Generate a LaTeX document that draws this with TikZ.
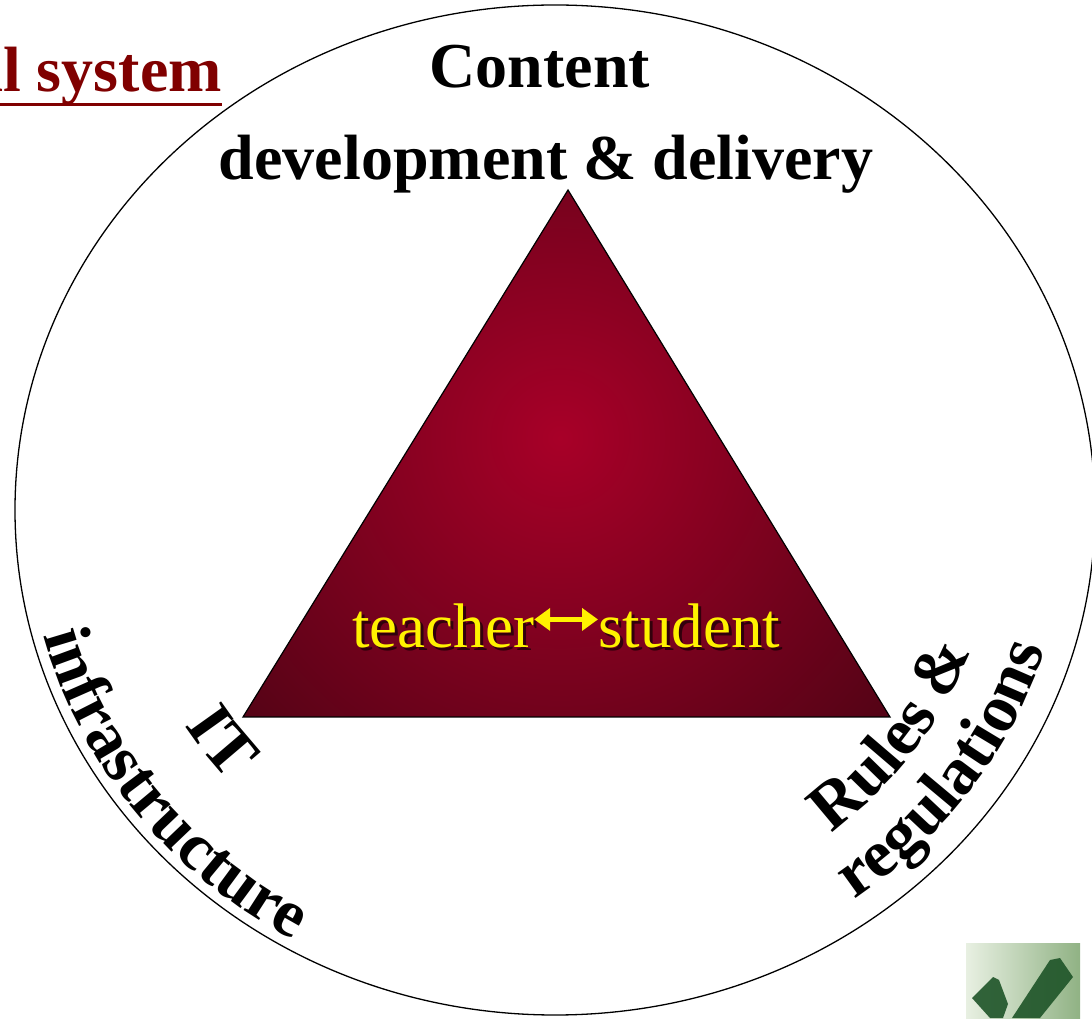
\documentclass[tikz,border=0pt]{standalone}
\usepackage{fontspec}
\setmainfont{Liberation Serif}
\usetikzlibrary{arrows.meta,decorations.text}

\definecolor{wine}{HTML}{800000}
\definecolor{crimson}{HTML}{A80028}
\definecolor{darkwine}{HTML}{3A0410}
\definecolor{tickpale}{HTML}{E8F0E2}
\definecolor{tickmid}{HTML}{90B284}
\definecolor{tickdark}{HTML}{1E5428}

\begin{document}
\begin{tikzpicture}[x=1pt,y=1pt,
  bigbold/.style={font=\fontsize{64}{64}\selectfont\bfseries, inner sep=0pt},
  yellowtext/.style={font=\fontsize{63}{63}\selectfont, text=yellow, inner sep=0pt},
  shadetext/.style={font=\fontsize{63}{63}\selectfont, text=black, opacity=0.6, inner sep=0pt},
  dblarrow/.style={draw=yellow, line width=5pt, {Triangle[length=16pt,width=22pt]}-{Triangle[length=16pt,width=22pt]}},
  arctext/.style={decorate, decoration={text along path, text align=center, text={#1}}}]
\newcommand{\ringx}{540}
\newcommand{\ringy}{505}
\newcommand{\arcfont}{\fontsize{67}{67}\selectfont\bfseries}

\useasboundingbox (0,0) rectangle (1092,1018);
\clip (0,0) rectangle (1092,1018);

% outer ring
\coordinate (ctr) at (555,508);
\draw[line width=1.3pt] (ctr) ellipse [x radius=\ringx, y radius=\ringy];

% triangle
\coordinate (apex) at (568,828);
\coordinate (leftc) at (243,301);
\coordinate (rightc) at (890,301);
\begin{scope}
\clip (apex) -- (leftc) -- (rightc) -- cycle;
\shade[inner color=crimson, outer color=darkwine] (560,580) circle (560);
\end{scope}
\draw[line width=1.2pt] (apex) -- (leftc) -- (rightc) -- cycle;

% headings
\node[bigbold, text=wine, anchor=base east] (system) at (222,926) {al system};
\draw[wine, line width=3pt] ([yshift=-13pt]system.base west) -- ([yshift=-13pt]system.base east);
\node[bigbold, anchor=base] (content) at (540,930) {Content};
\node[bigbold, anchor=base] (delivery) at (546,838) {development \& delivery};

% teacher <-> student
\node[shadetext, anchor=base west] (teachershade) at (355,367) {teacher};
\node[shadetext, anchor=base west] (studentshade) at (601,367) {student};
\node[yellowtext, anchor=base west] (teacher) at (352,370) {teacher};
\node[yellowtext, anchor=base west] (student) at (598,370) {student};
\draw[dblarrow] ([yshift=7pt]teacher.east) -- ([yshift=7pt]student.west);

% labels along the ring
\path[arctext={|\arcfont|IT}] (ctr) ++(176:436 and 408) arc[start angle=176, end angle=256, x radius=436, y radius=408];
\path[arctext={|\arcfont|infrastructure}] (ctr) ++(176:529 and 495) arc[start angle=176, end angle=258, x radius=529, y radius=495];
\path[arctext={|\arcfont|Rules {\&}}] (ctr) ++(285:442 and 413) arc[start angle=285, end angle=365, x radius=442, y radius=413];
\path[arctext={|\arcfont|regulations}] (ctr) ++(285:512 and 480) arc[start angle=285, end angle=365, x radius=512, y radius=480];

% tick picture
\shade[left color=tickpale, right color=tickmid] (966,-2) rectangle (1080,75);
\fill[tickdark, opacity=0.9] (972,20) -- (993,41) -- (999,38) -- (1008,14) -- (1003,0) -- (990,0) -- cycle;
\fill[tickdark, opacity=0.9] (1012,0) -- (1050,58) -- (1060,60) -- (1073,41) -- (1040,0) -- cycle;
\end{tikzpicture}
\end{document}
